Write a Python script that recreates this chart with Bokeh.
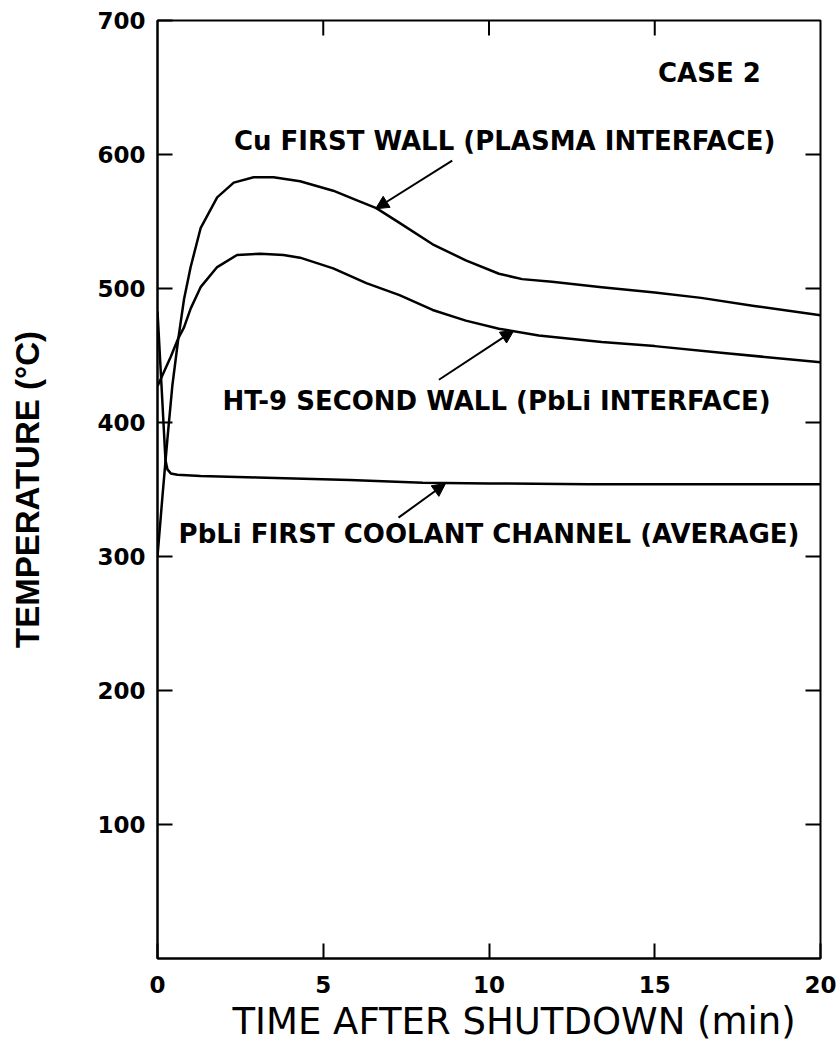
import numpy as np
from bokeh.plotting import figure
from bokeh.models import FixedTicker, Range1d, Label, Arrow, NormalHead, Title
from bokeh.embed import file_html
from bokeh.resources import INLINE

# ---- data ----
cu_time = [0, 0.15, 0.3, 0.45, 0.63, 0.8, 1.0, 1.3, 1.8, 2.3, 2.9, 3.5, 4.3, 5.3, 6.0,
           6.6, 7.3, 8.3, 9.3, 10.3, 11.0, 11.9, 13.4, 15.0, 16.4, 18.0, 20.0]
cu_temp = [300, 345, 388, 428, 463, 492, 516, 545, 568, 579, 583, 583, 580, 573, 566,
           560, 549, 533, 521, 511, 507, 505, 501, 497, 493, 487, 480]

ht_time = [0, 0.2, 0.4, 0.63, 0.8, 1.0, 1.3, 1.8, 2.4, 3.1, 3.8, 4.3, 5.3, 6.3, 7.3,
           8.3, 9.3, 10.3, 11.5, 13.4, 15.0, 17.0, 20.0]
ht_temp = [427, 438, 449, 463, 471, 485, 501, 516, 525, 526, 525, 523, 515, 504, 495,
           484, 476, 470, 465, 460, 457, 452, 445]

pb_time = [0, 0.12, 0.24, 0.3, 0.4, 0.6, 1.3, 3.0, 5.8, 8.0, 10.0, 13.0, 16.0, 20.0]
pb_temp = [483, 428, 372, 365, 362, 361, 360, 359, 357, 355, 354.5, 354, 354, 354]

x_ticks = [0, 5, 10, 15, 20]
y_ticks = [100, 200, 300, 400, 500, 600, 700]
inner_x_ticks = [5, 10, 15]
inner_y_ticks = [100, 200, 300, 400, 500, 600]

label_cu = "Cu FIRST WALL (PLASMA INTERFACE)"
label_ht = "HT-9 SECOND WALL (PbLi INTERFACE)"
label_pb = "PbLi FIRST COOLANT CHANNEL (AVERAGE)"
label_case = "CASE 2"
x_title = "TIME AFTER SHUTDOWN (min)"
y_title = "TEMPERATURE (°C)"

X_MIN, X_MAX = 0, 20
Y_MIN, Y_MAX = 0, 700

# ---- figure ----
p = figure(width=838, height=1050, x_range=Range1d(X_MIN, X_MAX), y_range=Range1d(Y_MIN, Y_MAX),
           output_backend="svg", toolbar_location=None,
           min_border_left=157, min_border_right=18, min_border_top=20, min_border_bottom=92)
p.grid.visible = False
p.outline_line_color = "black"
p.outline_line_width = 2
p.background_fill_color = "white"
p.border_fill_color = "white"

TICK_FONT = "DejaVu Sans"

xa = p.xaxis[0]
xa.ticker = FixedTicker(ticks=x_ticks)
xa.major_tick_in = 15
xa.major_tick_out = 0
xa.minor_tick_in = 0
xa.minor_tick_out = 0
xa.major_tick_line_width = 2
xa.axis_line_width = 2
xa.major_label_text_font = TICK_FONT
xa.major_label_text_font_style = "bold"
xa.major_label_text_font_size = "23px"
xa.major_label_text_color = "black"
xa.major_label_standoff = 17

ya = p.yaxis[0]
ya.ticker = FixedTicker(ticks=y_ticks)
ya.major_tick_in = 15
ya.major_tick_out = 0
ya.minor_tick_in = 0
ya.minor_tick_out = 0
ya.major_tick_line_width = 2
ya.axis_line_width = 2
ya.major_label_text_font = TICK_FONT
ya.major_label_text_font_style = "bold"
ya.major_label_text_font_size = "23px"
ya.major_label_text_color = "black"
ya.major_label_standoff = 12
ya.axis_label = y_title
ya.axis_label_text_font = "Liberation Sans"
ya.axis_label_text_font_style = "bold"
ya.axis_label_text_font_size = "33px"
ya.axis_label_text_color = "black"
ya.axis_label_standoff = 48

# x title as a side-panel title (allows the reference's slight off-centre placement)
p.add_layout(Title(text=x_title, align="left", offset=75, standoff=4,
                   text_font="DejaVu Sans", text_font_style="normal",
                   text_font_size="37px", text_color="black"), "below")

# inward ticks on the right and top edges (no labels)
p.ray(x=[X_MAX] * len(inner_y_ticks), y=inner_y_ticks, length=15, length_units="screen",
      angle=np.pi, line_color="black", line_width=2)
p.ray(x=inner_x_ticks, y=[Y_MAX] * len(inner_x_ticks), length=15, length_units="screen",
      angle=-np.pi / 2, line_color="black", line_width=2)

# ---- curves ----
for xs, ys in [(cu_time, cu_temp), (ht_time, ht_temp), (pb_time, pb_temp)]:
    p.line(xs, ys, line_color="black", line_width=2.5, line_join="round")

# ---- annotations ----
def add_label(txt, x, y):
    p.add_layout(Label(x=x, y=y, text=txt, text_font="DejaVu Sans", text_font_style="bold",
                       text_font_size="26px", text_color="black",
                       text_align="center", text_baseline="middle"))

add_label(label_case, 16.65, 661)
add_label(label_cu, 10.47, 610)
add_label(label_ht, 10.23, 416)
add_label(label_pb, 10.0, 317)

def add_arrow(x0, y0, x1, y1):
    p.add_layout(Arrow(end=NormalHead(size=13, fill_color="black", line_color="black", line_width=1),
                       x_start=x0, y_start=y0, x_end=x1, y_end=y1,
                       line_color="black", line_width=2))

add_arrow(8.89, 595.5, 6.58, 559.5)
add_arrow(8.49, 431.9, 10.75, 468.7)
add_arrow(7.27, 329.0, 8.69, 354.5)

open("out.html", "w").write(file_html(p, INLINE))
